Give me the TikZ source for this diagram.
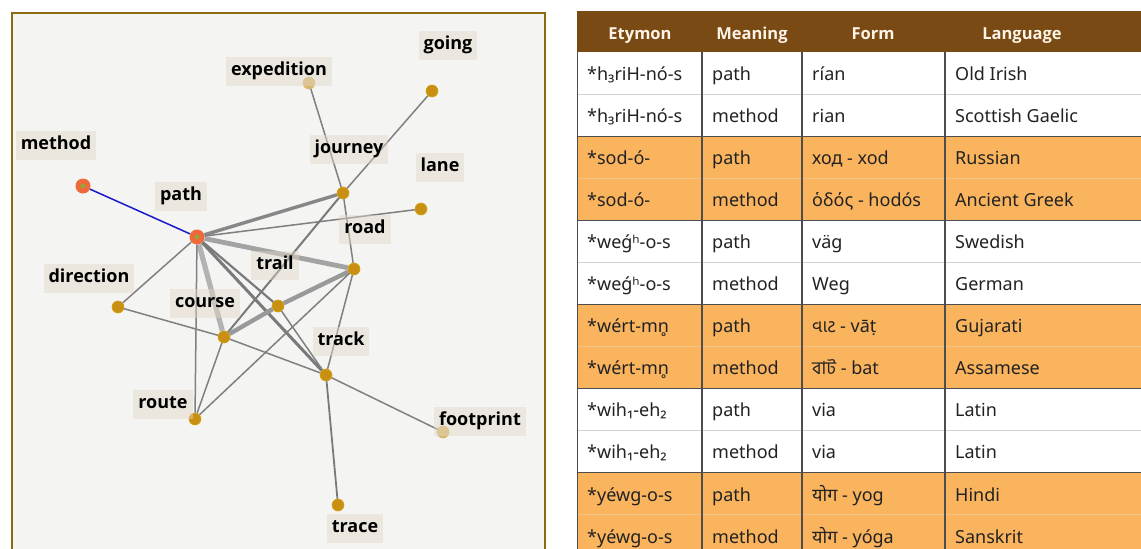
\documentclass[tikz,border=0pt]{standalone}
\usepackage{fontspec}
\setmainfont{Noto Sans}
\newfontfamily\lblfont{Open Sans}
\newfontfamily\devafont[Script=Devanagari]{Noto Sans}
\newfontfamily\gujfont[Script=Gujarati]{Noto Sans Gujarati UI}
\newfontfamily\bengfont[Script=Bengali]{Hind Siliguri}

\definecolor{panelbg}{HTML}{F4F4F3}
\definecolor{framecol}{HTML}{8C6A12}
\definecolor{nodegold}{HTML}{C98F12}
\definecolor{nodepale}{HTML}{D8B86C}
\definecolor{nodeorange}{HTML}{EE6A3A}
\definecolor{dotgreen}{HTML}{8FA83A}
\definecolor{labelbg}{HTML}{E2D8C8}
\definecolor{linkblue}{HTML}{1A1AC8}
\definecolor{headbrown}{HTML}{7A4A15}
\definecolor{headtext}{HTML}{FFF4E6}
\definecolor{roworange}{HTML}{FAB45E}
\definecolor{celltext}{HTML}{222222}
\definecolor{gridline}{HTML}{4D4D4D}
\definecolor{softline}{HTML}{D2D2D2}
\definecolor{orangeline}{HTML}{F2C48A}

% one table row: index, etymon, meaning, form, language, fill colour
\newcommand\etymrow[6]{%
  \pgfmathsetmacro\rtop{52+(#1-1)*42.05}%
  \pgfmathsetmacro\rbase{\rtop+28.5}%
  \fill[#6] (577,\rtop) rectangle (1141,\rtop+42.05);
  \node[cell] (r#1a) at (587,\rbase) {#2};
  \node[cell] (r#1b) at (712,\rbase) {#3};
  \node[cell] (r#1c) at (812,\rbase) {#4};
  \node[cell] (r#1d) at (955,\rbase) {#5};
}

\begin{document}
\begin{tikzpicture}[x=1pt,y=-1pt,
  gnode/.style={circle, fill=nodegold, draw=nodegold!80!yellow, line width=0.6pt, minimum size=12pt, inner sep=0pt},
  palenode/.style={gnode, fill=nodepale, draw=nodepale},
  hubnode/.style={circle, fill=nodeorange, minimum size=15pt, inner sep=0pt,
    path picture={\fill[dotgreen] (path picture bounding box.center) circle (2.4pt);}},
  lbl/.style={fill=labelbg, fill opacity=0.45, text opacity=1, text=black,
    font=\lblfont\bfseries\fontsize{18}{21}\selectfont, inner xsep=5pt, inner ysep=6pt,
    text height=13pt, text depth=4pt},
  ethin/.style={draw=black!50, line width=1.5pt},
  emed/.style={draw=black!52, line width=2.2pt},
  ethick/.style={draw=black!47, line width=3.4pt},
  ewide/.style={draw=black!36, line width=4.8pt},
  elink/.style={draw=linkblue, line width=1.5pt},
  cell/.style={anchor=base west, inner sep=0pt, text=celltext, font=\fontsize{18}{21}\selectfont},
  headcell/.style={anchor=base, inner sep=0pt, text=headtext, font=\lblfont\bfseries\fontsize{16.5}{20}\selectfont},
]
\useasboundingbox (0,0) rectangle (1141,549);
\clip (0,0) rectangle (1141,549);
\fill[white] (0,0) rectangle (1141,549);

% ---------------- word network ----------------
\fill[panelbg] (12,13) rectangle (545,570);
\draw[framecol, line width=2pt] (12,13) rectangle (545,570);

\node[hubnode] (method) at (83,186) {};
\node[hubnode] (path) at (197,237) {};
\node[palenode] (expedition) at (309,83) {};
\node[gnode] (going) at (432,91) {};
\node[gnode] (journey) at (343,193) {};
\node[gnode] (lane) at (421,209) {};
\node[gnode] (road) at (354,269) {};
\node[gnode] (trail) at (278,306) {};
\node[gnode] (course) at (224,337) {};
\node[gnode] (direction) at (118,307) {};
\node[gnode] (track) at (326,375) {};
\node[gnode] (route) at (195,419) {};
\node[palenode] (footprint) at (443,432) {};
\node[gnode] (trace) at (338,505) {};

\draw[elink] (method) -- (path);
\draw[ewide, draw=black!30, line width=5.2pt] (path) -- (course);
\draw[ewide] (path) -- (road);
\draw[ethick] (path) -- (journey);
\draw[ethick, draw=black!52, line width=3pt] (path) -- (track);
\draw[emed] (path) -- (trail);
\draw[ethin] (path) -- (lane);
\draw[ethin] (path) -- (route);
\draw[ethin] (path) -- (direction);
\draw[ethin] (journey) -- (expedition);
\draw[ethin] (journey) -- (going);
\draw[ethin] (journey) -- (road);
\draw[emed, line width=2pt] (journey) -- (course);
\draw[ewide, draw=black!40, line width=4.4pt] (course) -- (trail);
\draw[ewide, draw=black!40, line width=4.4pt] (trail) -- (road);
\draw[ethin] (trail) -- (track);
\draw[ethin] (road) -- (track);
\draw[ethin] (road) -- (route);
\draw[ethin] (course) -- (route);
\draw[ethin] (direction) -- (course);
\draw[ethin] (course) -- (track);
\draw[ethin] (track) -- (footprint);
\draw[emed, line width=1.8pt] (track) -- (trace);

\node[lbl] (lmethod) at (56,145) {method};
\node[lbl] (lpath) at (181,196) {path};
\node[lbl] (lexpedition) at (279,71) {expedition};
\node[lbl] (lgoing) at (448,45) {going};
\node[lbl] (ljourney) at (349,149) {journey};
\node[lbl] (llane) at (440,167) {lane};
\node[lbl] (lroad) at (365,229) {road};
\node[lbl] (ltrail) at (275,265) {trail};
\node[lbl] (lcourse) at (205,303) {course};
\node[lbl] (ldirection) at (89,278) {direction};
\node[lbl] (ltrack) at (341,341) {track};
\node[lbl] (lroute) at (163,404) {route};
\node[lbl] (lfootprint) at (480,421) {footprint};
\node[lbl] (ltrace) at (355,528) {trace};

% ---------------- etymon table ----------------
\fill[headbrown] (577,11) rectangle (1141,52);
\node[headcell] (hety) at (640,39) {Etymon};
\node[headcell] (hmean) at (752,39) {Meaning};
\node[headcell] (hform) at (873,39) {Form};
\node[headcell] (hlang) at (1022,39) {Language};

\etymrow{1}{*h₃riH-nó-s}{path}{rían}{Old Irish}{white}
\etymrow{2}{*h₃riH-nó-s}{method}{rian}{Scottish Gaelic}{white}
\etymrow{3}{*sod-ó-}{path}{ход - xod}{Russian}{roworange}
\etymrow{4}{*sod-ó-}{method}{ὁδός - hodós}{Ancient Greek}{roworange}
\etymrow{5}{*weǵʰ-o-s}{path}{väg}{Swedish}{white}
\etymrow{6}{*weǵʰ-o-s}{method}{Weg}{German}{white}
\etymrow{7}{*wért-mn̥}{path}{{\gujfont વાટ} - vāṭ}{Gujarati}{roworange}
\etymrow{8}{*wért-mn̥}{method}{{\bengfont বাট} - bat}{Assamese}{roworange}
\etymrow{9}{*wih₁-eh₂}{path}{via}{Latin}{white}
\etymrow{10}{*wih₁-eh₂}{method}{via}{Latin}{white}
\etymrow{11}{*yéwg-o-s}{path}{{\devafont योग} - yog}{Hindi}{roworange}
\etymrow{12}{*yéwg-o-s}{method}{{\devafont योग} - yóga}{Sanskrit}{roworange}

% horizontal rules between rows
\foreach \k in {1,5,9} {
  \draw[softline, line width=1pt] (577,{52+\k*42.05}) -- (1141,{52+\k*42.05});
}
\foreach \k in {3,7,11} {
  \draw[orangeline, line width=1pt] (577,{52+\k*42.05}) -- (1141,{52+\k*42.05});
}
\foreach \k in {2,4,6,8,10} {
  \draw[gridline, line width=1.2pt] (577,{52+\k*42.05}) -- (1141,{52+\k*42.05});
}
% column rules
\foreach \cx in {577.6,702,802,945} {
  \draw[gridline, line width=1.3pt] (\cx,52) -- (\cx,560);
}
\end{tikzpicture}
\end{document}
